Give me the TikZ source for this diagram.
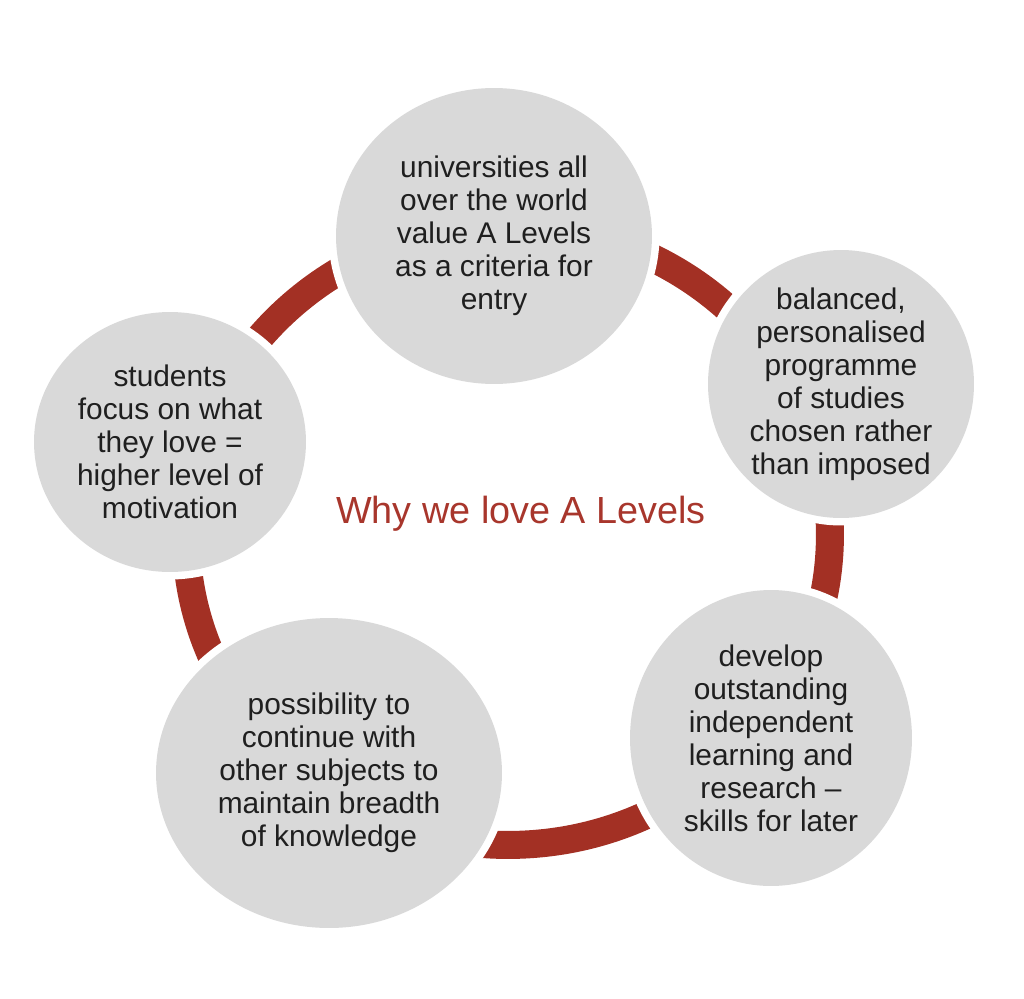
\documentclass[tikz,border=0pt]{standalone}
\usepackage{fontspec}
\setmainfont{Liberation Sans}
\usepackage{tikz}
\usetikzlibrary{shapes.geometric}
\definecolor{ringred}{RGB}{163,48,36}
\definecolor{bubblegrey}{RGB}{217,217,217}
\definecolor{titlered}{RGB}{168,54,44}

\begin{document}
\begin{tikzpicture}[x=0.02cm, y=-0.02cm, every node/.style={font=\fontsize{17}{18.8}\selectfont}]
\tikzstyle{bubble}=[ellipse, fill=bubblegrey, inner sep=0pt, preaction={draw=white, line width=0.3cm}]
\tikzstyle{txt}=[align=center, text=black!88, inner sep=0pt]
\useasboundingbox (0,0) rectangle (1024,998);
\draw[ringred, line width=0.56cm] (508,535) ellipse [x radius=6.44cm, y radius=6.2cm];
\node[bubble, minimum width=6.32cm, minimum height=5.92cm] (uni) at (494,236) {};
\node[bubble, minimum width=5.32cm, minimum height=5.36cm] (prog) at (841,384) {};
\node[bubble, minimum width=5.64cm, minimum height=5.92cm] (skill) at (771,738) {};
\node[bubble, minimum width=6.92cm, minimum height=6.2cm] (breadth) at (329,773) {};
\node[bubble, minimum width=5.44cm, minimum height=5.2cm] (motiv) at (170,442) {};
\node[txt] (uni-t) at (uni) {universities all\\over the world\\value A Levels\\as a criteria for\\entry};
\node[txt] (prog-t) at (prog) {balanced,\\personalised\\programme\\of studies\\chosen rather\\than imposed};
\node[txt] (skill-t) at (skill) {develop\\outstanding\\independent\\learning and\\research --\\skills for later};
\node[txt] (breadth-t) at (breadth) {possibility to\\continue with\\other subjects to\\maintain breadth\\of knowledge};
\node[txt] (motiv-t) at (motiv) {students\\focus on what\\they love =\\higher level of\\motivation};
\node[text=titlered, font=\fontsize{21.5}{25}\selectfont, anchor=base, inner sep=0pt] (title) at (521,523) {Why we love A Levels};
\end{tikzpicture}
\end{document}
